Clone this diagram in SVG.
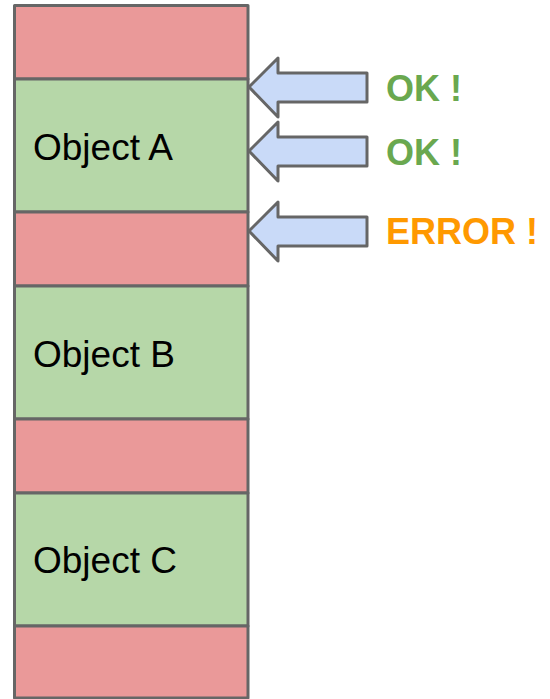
<svg xmlns="http://www.w3.org/2000/svg" width="550" height="699" viewBox="0 0 550 699">
<style>
.blk{stroke:#666666;stroke-width:3;stroke-linejoin:round}
.red{fill:#ea9999}
.green{fill:#b6d7a8}
.lbl{font-family:"Liberation Sans",Arial,sans-serif;font-size:37px;fill:#000000}
.arrow{fill:#c9daf8;stroke:#666666;stroke-width:3;stroke-linejoin:round}
.st{font-family:"Liberation Sans",Arial,sans-serif;font-size:36px;font-weight:bold}
</style>
<rect width="550" height="699" fill="#ffffff"/>
<g id="free1"><rect class="blk red" x="14.5" y="5.5" width="233.5" height="73.5"/></g>
<g id="objectA"><rect class="blk green" x="14.5" y="79" width="233.5" height="133"/><text class="lbl" x="33" y="160">Object A</text></g>
<g id="free2"><rect class="blk red" x="14.5" y="212" width="233.5" height="74"/></g>
<g id="objectB"><rect class="blk green" x="14.5" y="286" width="233.5" height="133"/><text class="lbl" x="33" y="367">Object B</text></g>
<g id="free3"><rect class="blk red" x="14.5" y="419" width="233.5" height="74"/></g>
<g id="objectC"><rect class="blk green" x="14.5" y="493" width="233.5" height="133"/><text class="lbl" x="33" y="573">Object C</text></g>
<g id="free4"><rect class="blk red" x="14.5" y="626" width="233.5" height="72"/></g>
<g id="connectors">
<path class="arrow" d="M249,87 L278,58 L278,73 L367,73 L367,102 L278,102 L278,117 Z"/>
<path class="arrow" d="M249,151 L278,122 L278,137 L367,137 L367,166 L278,166 L278,181 Z"/>
<path class="arrow" d="M249,231 L278,202 L278,217 L367,217 L367,246 L278,246 L278,261 Z"/>
</g>
<g id="status1"><text class="st" x="386" y="101" fill="#6aa84f">OK !</text></g>
<g id="status2"><text class="st" x="386" y="165" fill="#6aa84f">OK !</text></g>
<g id="status3"><text class="st" x="386" y="244" fill="#ff9900">ERROR !</text></g>
</svg>
